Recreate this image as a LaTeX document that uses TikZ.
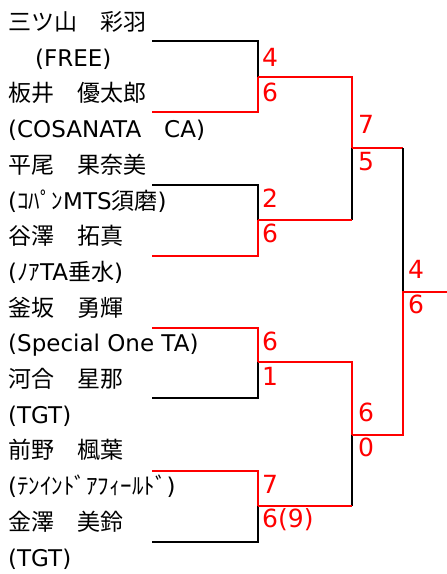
\documentclass[tikz,border=0pt]{standalone}
\usepackage{fontspec}
\setmainfont{DejaVu Sans}
\newfontfamily\jp{Noto Sans CJK JP}
\begin{document}
\begin{tikzpicture}[x=1pt,y=-1pt,
  player/.style={anchor=base west, inner sep=0pt, font=\fontsize{23}{27}\selectfont},
  scorelbl/.style={anchor=base west, inner sep=0pt, text=red, font=\fontsize{25}{30}\selectfont},
  winline/.style={draw=red, line width=2.6pt},
  loseline/.style={draw=black, line width=2.6pt}]
\useasboundingbox (0,0) rectangle (447,574);

% players
\node[player] (p1)  at (8,30.5)  {\jp 三ツ山　彩羽};
\node[player] (c1)  at (35,66.2) {(FREE)};
\node[player] (p2)  at (8,101.9) {\jp 板井　優太郎};
\node[player] (c2)  at (8,137.6) {(COSANATA{\jp 　}CA)};
\node[player] (p3)  at (8,173.3) {\jp 平尾　果奈美};
\node[player] (c3)  at (8,209)   {({\jp ｺﾊﾟﾝ}MTS{\jp 須磨})};
\node[player] (p4)  at (8,244.7) {\jp 谷澤　拓真};
\node[player] (c4)  at (8,280.4) {({\jp ﾉｱ}TA{\jp 垂水})};
\node[player] (p5)  at (8,316.1) {\jp 釜坂　勇輝};
\node[player] (c5)  at (8,351.8) {(Special One TA)};
\node[player] (p6)  at (8,387.5) {\jp 河合　星那};
\node[player] (c6)  at (8,423.2) {(TGT)};
\node[player] (p7)  at (8,458.9) {\jp 前野　楓葉};
\node[player] (c7)  at (8,494.6) {({\jp ﾃﾝｲﾝﾄﾞｱﾌｨｰﾙﾄﾞ})};
\node[player] (p8)  at (8,530.3) {\jp 金澤　美鈴};
\node[player] (c8)  at (8,566)   {(TGT)};

% bracket coordinates
\coordinate (L1a) at (152,41);  \coordinate (C1a) at (258,41);
\coordinate (M1)  at (258,77);
\coordinate (C1b) at (258,112); \coordinate (L1b) at (152,112);
\coordinate (L2a) at (152,185); \coordinate (C2a) at (258,185);
\coordinate (M2)  at (258,220);
\coordinate (C2b) at (258,256); \coordinate (L2b) at (152,256);
\coordinate (L3a) at (152,328); \coordinate (C3a) at (258,328);
\coordinate (M3)  at (258,362);
\coordinate (C3b) at (258,398); \coordinate (L3b) at (152,398);
\coordinate (L4a) at (152,471); \coordinate (C4a) at (258,471);
\coordinate (M4)  at (258,506);
\coordinate (C4b) at (258,542); \coordinate (L4b) at (152,542);
\coordinate (S1a) at (352,77);  \coordinate (F1) at (352,148); \coordinate (S1b) at (352,220);
\coordinate (S2a) at (352,362); \coordinate (F2) at (352,435); \coordinate (S2b) at (352,506);
\coordinate (G1)  at (403,148); \coordinate (W) at (403,292); \coordinate (G2) at (403,435);
\coordinate (E)   at (447,292);

% first round
\draw[loseline] (L1a) -- (C1a) -- (M1);
\draw[winline]  (M1) -- (C1b) -- (L1b);
\draw[loseline] (L2a) -- (C2a) -- (M2);
\draw[winline]  (M2) -- (C2b) -- (L2b);
\draw[winline]  (L3a) -- (C3a) -- (M3);
\draw[loseline] (M3) -- (C3b) -- (L3b);
\draw[winline]  (L4a) -- (C4a) -- (M4);
\draw[loseline] (M4) -- (C4b) -- (L4b);
% semifinals
\draw[winline]  (M1) -- (S1a) -- (F1);
\draw[loseline] (F1) -- (S1b);
\draw[winline]  (M2) -- (S1b);
\draw[winline]  (M3) -- (S2a) -- (F2);
\draw[loseline] (F2) -- (S2b);
\draw[winline]  (M4) -- (S2b);
% final
\draw[winline]  (F1) -- (G1);
\draw[loseline] (G1) -- (W);
\draw[winline]  (F2) -- (G2) -- (W) -- (E);

% scores
\node[scorelbl] (s1a) at (262,66)  {4};
\node[scorelbl] (s1b) at (262,101) {6};
\node[scorelbl] (s2a) at (262,207) {2};
\node[scorelbl] (s2b) at (262,242) {6};
\node[scorelbl] (s3a) at (262,350) {6};
\node[scorelbl] (s3b) at (262,385) {1};
\node[scorelbl] (s4a) at (262,493) {7};
\node[scorelbl] (s4b) at (262,527) {6(9)};
\node[scorelbl] (t1a) at (358,133) {7};
\node[scorelbl] (t1b) at (358,170) {5};
\node[scorelbl] (t2a) at (358,421) {6};
\node[scorelbl] (t2b) at (358,456) {0};
\node[scorelbl] (fa)  at (408,278) {4};
\node[scorelbl] (fb)  at (408,313) {6};
\end{tikzpicture}
\end{document}
